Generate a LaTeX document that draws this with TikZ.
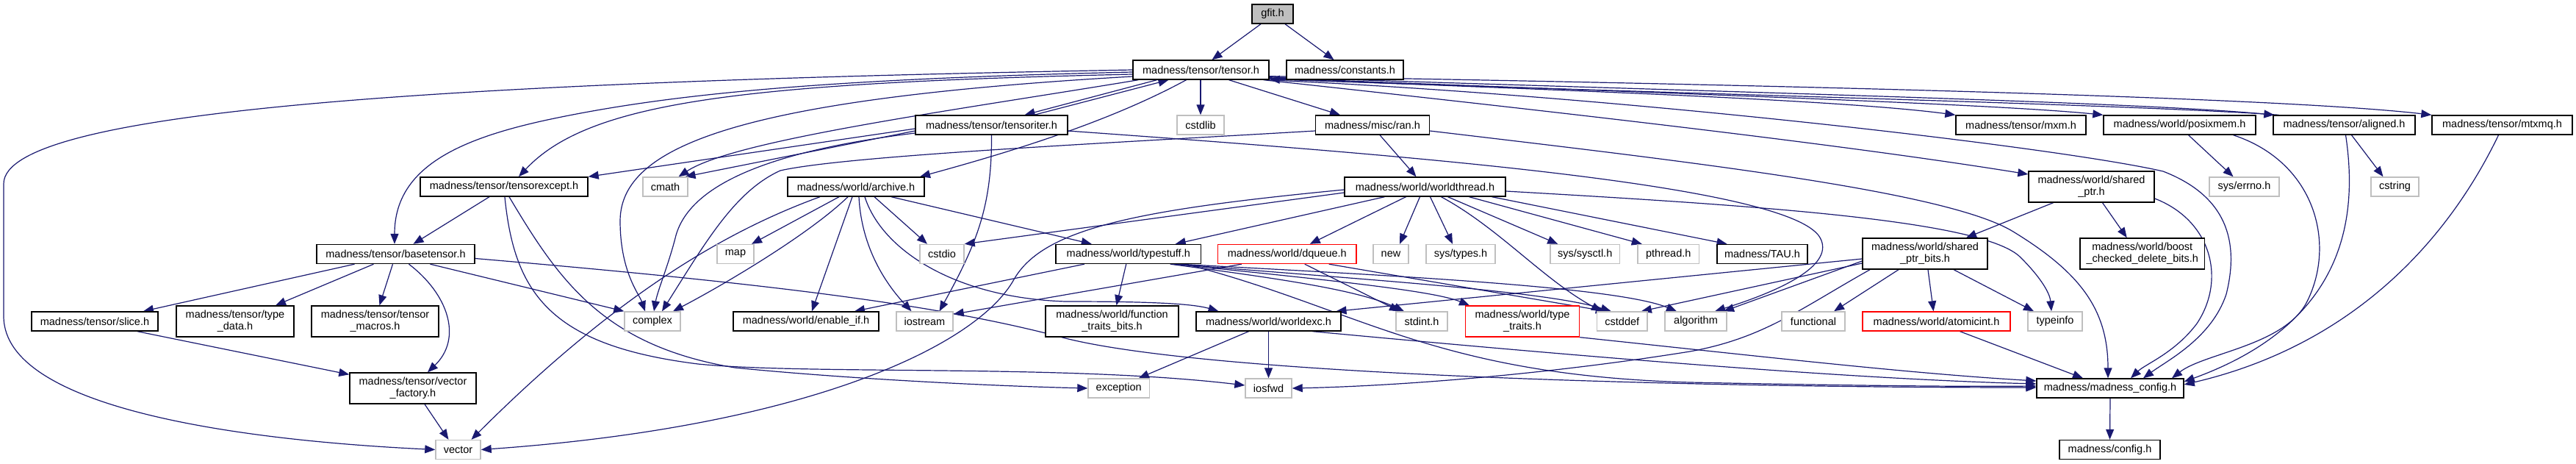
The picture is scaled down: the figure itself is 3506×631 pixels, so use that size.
\documentclass[tikz,border=0pt]{standalone}
\usepackage{fontspec}
\setmainfont{Liberation Sans}
\usetikzlibrary{arrows.meta}
\pgfdeclarelayer{edges}
\pgfsetlayers{edges,main}
\definecolor{edgec}{HTML}{191970}
\definecolor{sysgray}{HTML}{BFBFBF}
\begin{document}
\begin{tikzpicture}[x=1pt,y=-1pt,
  bx/.style={draw=black,line width=1.4pt,fill=white,minimum height=26pt,inner sep=0pt,font=\fontsize{14.5}{16}\selectfont},
  sys/.style={bx,draw=sysgray},
  rd/.style={bx,draw=red},
  two/.style={minimum height=42pt,align=center},
  e/.style={draw=edgec,line width=1.2pt,-{Triangle[length=14pt,width=11pt]}}]
\useasboundingbox (0,0) rectangle (3506,631);
% row 0
\node[bx,fill=sysgray,minimum width=56pt] (gfit) at (1732,19) {gfit.h};
% row 1
\node[bx,minimum width=185pt] (tensor) at (1634.5,95) {madness/tensor/tensor.h};
\node[bx,minimum width=159pt] (constants) at (1830.5,95) {madness/constants.h};
% row 2
\node[bx,minimum width=207pt] (tensoriter) at (1349.5,170) {madness/tensor/tensoriter.h};
\node[sys,minimum width=64pt] (cstdlib) at (1634,170) {cstdlib};
\node[bx,minimum width=155pt] (ran) at (1868,170) {madness/misc/ran.h};
\node[bx,minimum width=177pt] (mxm) at (2750.5,170) {madness/tensor/mxm.h};
\node[bx,minimum width=207pt] (posixmem) at (2966.5,170) {madness/world/posixmem.h};
\node[bx,minimum width=193pt] (aligned) at (3190.5,170) {madness/tensor/aligned.h};
\node[bx,minimum width=191pt] (mtxmq) at (3405.5,170) {madness/tensor/mtxmq.h};
% row 3
\node[bx,minimum width=228pt] (tensorexcept) at (686,254) {madness/tensor/tensorexcept.h};
\node[sys,minimum width=61pt] (cmath) at (905.5,254) {cmath};
\node[bx,minimum width=186pt] (archive) at (1165,254) {madness/world/archive.h};
\node[bx,minimum width=219pt] (worldthread) at (1939.5,254) {madness/world/worldthread.h};
\node[bx,two,minimum width=171pt] (sharedptr) at (2846.5,254) {madness/world/shared\\\_ptr.h};
\node[sys,minimum width=95pt] (errno) at (3054.5,254) {sys/errno.h};
\node[sys,minimum width=65pt] (cstring) at (3259.5,254) {cstring};
% row 4
\node[bx,minimum width=215pt] (basetensor) at (538.5,345.5) {madness/tensor/basetensor.h};
\node[sys,minimum width=50pt] (map) at (1001,345.5) {map};
\node[sys,minimum width=60pt] (cstdio) at (1282,345.5) {cstdio};
\node[bx,minimum width=197.5pt] (typestuff) at (1535.75,345.5) {madness/world/typestuff.h};
\node[rd,minimum width=188.5pt] (dqueue) at (1751.75,345.5) {madness/world/dqueue.h};
\node[sys,minimum width=48pt] (new) at (1893,345.5) {new};
\node[sys,minimum width=94pt] (systypes) at (1988,345.5) {sys/types.h};
\node[sys,minimum width=94.5pt] (sysctl) at (2157.25,345.5) {sys/sysctl.h};
\node[sys,minimum width=83.5pt] (pthread) at (2270.75,345.5) {pthread.h};
\node[bx,minimum width=123pt] (tau) at (2398.5,345.5) {madness/TAU.h};
\node[bx,two,minimum width=170pt] (sharedbits) at (2620,345) {madness/world/shared\\\_ptr\_bits.h};
\node[bx,two,minimum width=169.5pt] (boost) at (2915.75,345) {madness/world/boost\\\_checked\_delete\_bits.h};
% row 5
\node[bx,minimum width=172pt] (slice) at (129,437) {madness/tensor/slice.h};
\node[bx,two,minimum width=160pt] (typedata) at (320,437) {madness/tensor/type\\\_data.h};
\node[bx,two,minimum width=173pt] (macros) at (510.5,437) {madness/tensor/tensor\\\_macros.h};
\node[sys,minimum width=76pt] (complex) at (888,437) {complex};
\node[bx,minimum width=198pt] (enableif) at (1097,437) {madness/world/enable\_if.h};
\node[sys,minimum width=77pt] (iostream) at (1258.5,437) {iostream};
\node[bx,two,minimum width=181pt] (functraits) at (1513.5,437) {madness/world/function\\\_traits\_bits.h};
\node[bx,minimum width=197pt] (worldexc) at (1726.5,437) {madness/world/worldexc.h};
\node[sys,minimum width=70pt] (stdint) at (1935,437) {stdint.h};
\node[rd,two,minimum width=155pt] (typetraits) at (2072,437) {madness/world/type\\\_traits.h};
\node[sys,minimum width=68.4pt] (cstddef) at (2207.8,437) {cstddef};
\node[sys,minimum width=84pt] (algorithm) at (2308,437) {algorithm};
\node[sys,minimum width=86pt] (functional) at (2468,437) {functional};
\node[rd,minimum width=201pt] (atomicint) at (2635.5,437) {madness/world/atomicint.h};
\node[sys,minimum width=74pt] (typeinfo) at (2797,437) {typeinfo};
% row 6
\node[bx,two,minimum width=172pt] (vecfactory) at (562,528) {madness/tensor/vector\\\_factory.h};
\node[sys,minimum width=83.5pt] (exception) at (1522.75,528) {exception};
\node[sys,minimum width=63pt] (iosfwd) at (1726.5,528) {iosfwd};
\node[bx,minimum width=200pt] (mconfig) at (2872,528) {madness/madness\_config.h};
% row 7
\node[sys,minimum width=61pt] (vector) at (623.5,611.5) {vector};
\node[bx,minimum width=137pt] (config) at (2871.5,611.5) {madness/config.h};

\begin{pgfonlayer}{edges}
\draw[e] ([xshift=-16pt]gfit.south) -- ([xshift=15pt]tensor.north);
\draw[e] ([xshift=17pt]gfit.south) -- ([xshift=-15pt]constants.north);
% tensor.h
\draw[e] (tensor.west) .. controls (600,112) and (5,150) .. (5,250) -- (5,430) .. controls (5,560) and (350,600) .. (vector.west);
\draw[e] ([yshift=-3pt]tensor.west) .. controls (1100,108) and (900,130) .. (745,163) .. controls (620,190) and (537,230) .. ([xshift=-1.5pt]basetensor.north);
\draw[e] ([yshift=-6pt]tensor.west) .. controls (1000,113) and (800,140) .. ([xshift=20pt]tensorexcept.north);
\draw[e] ([yshift=-9pt]tensor.west) .. controls (1000,135) and (845,200) .. (844,300) .. controls (844,370) and (870,400) .. ([xshift=-10pt]complex.north);
\draw[e] ([xshift=8pt]tensor.south west) .. controls (1300,150) and (1000,190) .. ([xshift=18pt]cmath.north);
\draw[e] ([xshift=-60pt]tensor.south) -- ([xshift=45pt]tensoriter.north);
\draw[e] ([xshift=58pt]tensoriter.north) -- ([xshift=-44pt]tensor.south);
\draw[e] ([xshift=-20pt]tensor.south) .. controls (1520,160) and (1400,200) .. ([xshift=87pt]archive.north);
\draw[e] ([xshift=-0.5pt]tensor.south) -- (cstdlib.north);
\draw[e] ([xshift=38pt]tensor.south) -- ([xshift=-44pt]ran.north);
\draw[e] ([yshift=2pt]tensor.south east) .. controls (2100,122) and (2500,135) .. (mxm.north west);
\draw[e] ([yshift=3pt]tensor.south east) .. controls (2200,125) and (2700,140) .. (posixmem.north west);
\draw[e] ([yshift=4pt]tensor.south east) .. controls (2300,124) and (2900,138) .. ([xshift=2pt]aligned.north west);
\draw[e] ([xshift=8pt]aligned.north west) .. controls (2900,142) and (2300,128) .. ([yshift=1pt]tensor.south east);
\draw[e] ([yshift=5pt]tensor.south east) .. controls (2400,115) and (3100,132) .. (mtxmq.north west);
\draw[e] ([xshift=-8pt]tensor.south east) .. controls (2100,150) and (2500,195) .. ([yshift=17pt]sharedptr.west);
\draw[e] ([xshift=-4pt]tensor.south east) .. controls (2200,130) and (2800,200) .. (2944,233) .. controls (3040,270) and (3045,340) .. (3030,400) .. controls (3010,460) and (2950,490) .. ([xshift=45pt]mconfig.north);
% ran.h
\draw[e] ([xshift=10pt]ran.south) -- ([xshift=-12pt]worldthread.north);
\draw[e] ([yshift=-8pt]ran.west) .. controls (1500,195) and (1150,212) .. (1062,232) .. controls (1000,260) and (960,330) .. ([xshift=13pt]complex.north);
\draw[e] ([yshift=-8pt]ran.east) .. controls (2300,220) and (2650,260) .. (2740,315) .. controls (2830,370) and (2869,420) .. ([xshift=-3pt]mconfig.north);
% tensoriter.h
\draw[e] ([yshift=-5pt]tensoriter.west) -- (tensorexcept.north east);
\draw[e] ([yshift=-8pt]tensoriter.west) -- ([xshift=27pt]cmath.north);
\draw[e] ([yshift=-11pt]tensoriter.west) .. controls (1050,205) and (940,250) .. (920,320) .. controls (910,360) and (895,395) .. ([xshift=2pt]complex.north);
\draw[e] (tensoriter.south) .. controls (1350,280) and (1330,330) .. ([xshift=20pt]iostream.north);
\draw[e] ([yshift=-8pt]tensoriter.east) .. controls (1900,210) and (2420,250) .. (2475,320) .. controls (2500,355) and (2440,390) .. ([xshift=26pt]algorithm.north);
% archive.h
\draw[e] ([xshift=-49pt]archive.south) .. controls (1000,310) and (850,390) .. ([xshift=18pt]vector.north);
\draw[e] ([xshift=-23pt]archive.south) -- ([xshift=22pt]map.north);
\draw[e] ([xshift=-11pt]archive.south) .. controls (1100,320) and (980,390) .. ([xshift=28pt]complex.north);
\draw[e] ([xshift=-5pt]archive.south) -- ([xshift=8pt]enableif.north);
\draw[e] ([xshift=4pt]archive.south) .. controls (1172,330) and (1200,380) .. ([xshift=-18pt]iostream.north);
\draw[e] ([xshift=12pt]archive.south) .. controls (1200,340) and (1300,405) .. (1450,410) .. controls (1550,410) and (1620,412) .. ([xshift=-68pt]worldexc.north);
\draw[e] ([xshift=25pt]archive.south) -- ([xshift=-20pt]cstdio.north);
\draw[e] ([xshift=48pt]archive.south) -- ([xshift=-50pt]typestuff.north);
% worldthread.h
\draw[e] ([yshift=-8pt]worldthread.west) -- (cstdio.north east);
\draw[e] ([yshift=-4pt]worldthread.west) .. controls (1550,285) and (1420,310) .. (1380,380) .. controls (1330,470) and (1100,580) .. (vector.east);
\draw[e] ([xshift=-55pt]worldthread.south) -- ([xshift=64pt]typestuff.north);
\draw[e] ([xshift=-26pt]worldthread.south) -- ([xshift=31pt]dqueue.north);
\draw[e] ([xshift=-7pt]worldthread.south) -- ([xshift=12pt]new.north);
\draw[e] ([xshift=7pt]worldthread.south) -- ([xshift=-11pt]systypes.north);
\draw[e] ([xshift=22pt]worldthread.south) .. controls (2040,310) and (2100,380) .. ([xshift=-28pt]cstddef.north);
\draw[e] ([xshift=31pt]worldthread.south) -- ([xshift=-37pt]sysctl.north);
\draw[e] ([xshift=60pt]worldthread.south) -- ([xshift=-36pt]pthread.north);
\draw[e] ([xshift=91pt]worldthread.south) -- ([xshift=-48pt]tau.north);
\draw[e] ([yshift=-6pt]worldthread.east) .. controls (2400,280) and (2700,300) .. (2750,350) .. controls (2780,380) and (2790,400) .. ([xshift=-5pt]typeinfo.north);
% dqueue.h
\draw[e] ([xshift=-62pt]dqueue.south) -- ([yshift=-4pt]iostream.north east);
\draw[e] ([xshift=24pt]dqueue.south) -- ([xshift=-30pt]stdint.north);
\draw[e] ([xshift=57pt]dqueue.south) -- ([xshift=-22pt]cstddef.north);
% typestuff.h
\draw[e] ([xshift=-60pt]typestuff.south) -- ([xshift=66pt]enableif.north);
\draw[e] ([xshift=-3pt]typestuff.south) -- ([xshift=6pt]functraits.north);
\draw[e] ([xshift=57pt]typestuff.south) .. controls (1750,380) and (1850,395) .. ([xshift=-24pt]stdint.north);
\draw[e] ([xshift=62pt]typestuff.south) .. controls (1800,380) and (1950,395) .. ([xshift=-72pt]typetraits.north);
\draw[e] ([xshift=66pt]typestuff.south) .. controls (1850,380) and (2100,395) .. ([xshift=-15pt]cstddef.north);
\draw[e] ([xshift=70pt]typestuff.south) .. controls (1900,375) and (2200,390) .. ([xshift=-26pt]algorithm.north);
\draw[e] ([xshift=78pt]typestuff.south) .. controls (1850,420) and (1950,510) .. (2300,520) .. controls (2500,524) and (2650,526) .. ([yshift=3pt]mconfig.west);
% worldexc.h
\draw[e] ([xshift=-27pt]worldexc.south) -- ([xshift=27pt]exception.north);
\draw[e] (worldexc.south) -- (iosfwd.north);
\draw[e] ([xshift=60pt]worldexc.south) .. controls (2100,480) and (2500,515) .. ([yshift=6pt]mconfig.west);
\draw[e] (typetraits.south east) .. controls (2400,485) and (2600,508) .. ([yshift=10pt]mconfig.west);
% basetensor.h
\draw[e] ([yshift=-6pt]basetensor.east) .. controls (1100,390) and (1300,420) .. (1450,460) .. controls (1650,510) and (2300,527) .. ([yshift=1pt]mconfig.west);
\draw[e] ([xshift=-56pt]basetensor.south) -- ([xshift=66pt]slice.north);
\draw[e] ([xshift=-30pt]basetensor.south) -- ([xshift=55pt]typedata.north);
\draw[e] ([xshift=-4pt]basetensor.south) -- ([xshift=6pt]macros.north);
\draw[e] ([xshift=18pt]basetensor.south) .. controls (610,400) and (630,460) .. ([xshift=20pt]vecfactory.north);
\draw[e] ([xshift=47pt]basetensor.south) -- (complex.north west);
% tensorexcept.h
\draw[e] ([xshift=-20pt]tensorexcept.south) -- ([xshift=24pt]basetensor.north);
\draw[e] ([xshift=7pt]tensorexcept.south) .. controls (760,380) and (820,470) .. (1000,500) .. controls (1150,515) and (1350,525) .. (exception.west);
\draw[e] ([xshift=1pt]tensorexcept.south) .. controls (700,400) and (750,470) .. (950,495) .. controls (1100,510) and (1450,495) .. ([yshift=4pt]iosfwd.west);
% shared_ptr.h and right side
\draw[e] ([xshift=-52pt]sharedptr.south) -- ([xshift=56pt]sharedbits.north);
\draw[e] ([xshift=15pt]sharedptr.south) -- ([xshift=-21pt]boost.north);
\draw[e] ([yshift=-16pt]sharedptr.east) .. controls (3010,300) and (3030,380) .. (2990,440) .. controls (2960,480) and (2920,495) .. ([xshift=28pt]mconfig.north);
\draw[e] ([xshift=12pt]posixmem.south) -- ([xshift=-15pt]errno.north);
\draw[e] ([xshift=73pt]posixmem.south) .. controls (3150,220) and (3180,330) .. (3140,410) .. controls (3110,470) and (3000,480) .. ([xshift=84pt]mconfig.north);
\draw[e] ([xshift=10pt]aligned.south) -- ([xshift=-16pt]cstring.north);
\draw[e] ([xshift=2pt]aligned.south) .. controls (3210,300) and (3190,440) .. ([yshift=9pt]mconfig.east);
\draw[e] ([xshift=-5pt]mtxmq.south) .. controls (3330,330) and (3200,470) .. ([yshift=5pt]mconfig.east);
% shared_ptr_bits.h
\draw[e] ([xshift=-36pt]sharedbits.south) -- ([xshift=28pt]functional.north);
\draw[e] ([xshift=4pt]sharedbits.south) -- ([xshift=-4pt]atomicint.north);
\draw[e] ([xshift=39pt]sharedbits.south) -- ([xshift=-29pt]typeinfo.north);
\draw[e] ([yshift=-10pt]sharedbits.west) -- ([xshift=38pt]algorithm.north);
\draw[e] ([yshift=-7pt]sharedbits.west) -- ([xshift=92pt]worldexc.north);
\draw[e] ([yshift=-13pt]sharedbits.west) -- ([xshift=26pt]cstddef.north);
\draw[e] ([xshift=-75pt]sharedbits.south) .. controls (2450,420) and (2400,460) .. (2300,478) .. controls (2100,510) and (1900,525) .. (iosfwd.east);
\draw[e] ([xshift=32pt]atomicint.south) -- ([xshift=-37pt]mconfig.north);
\draw[e] (mconfig.south) -- (config.north);
% lower left
\draw[e] ([xshift=58pt]slice.south) -- ([yshift=-3pt]vecfactory.north west);
\draw[e] ([xshift=16pt]vecfactory.south) -- ([xshift=-13pt]vector.north);
\end{pgfonlayer}
\end{tikzpicture}
\end{document}
